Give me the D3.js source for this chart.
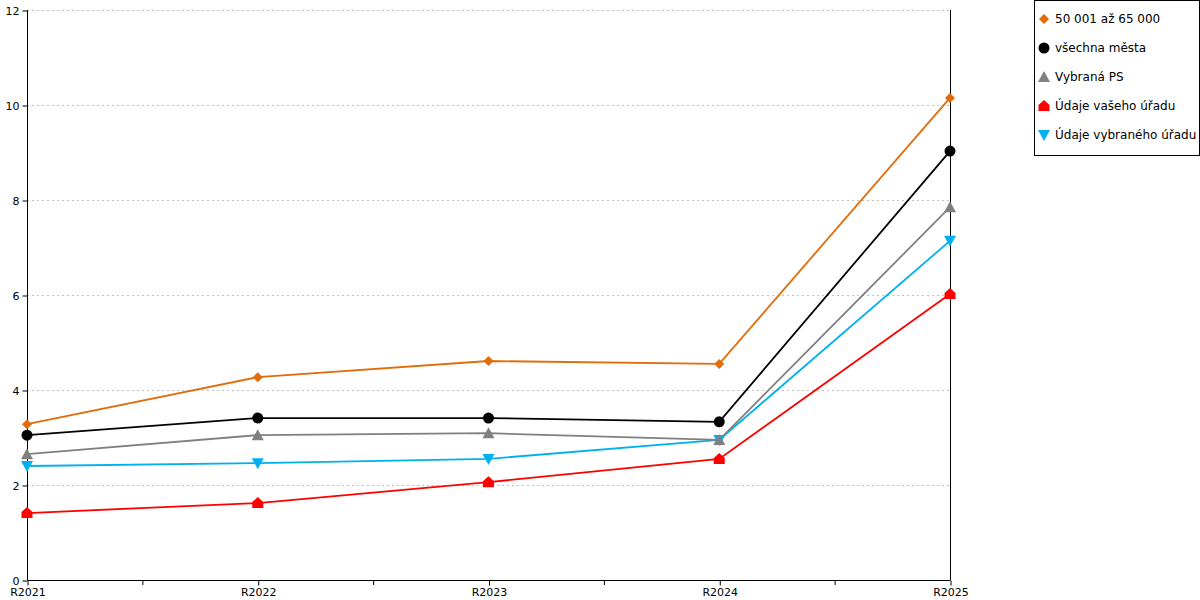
<!DOCTYPE html>
<html>
<head>
<meta charset="utf-8">
<script src="https://cdn.jsdelivr.net/npm/d3@7"></script>
<style>
  body { margin: 0; background: #fff; }
  text { font-family: "DejaVu Sans", sans-serif; }
</style>
</head>
<body>
<svg id="chart" width="1200" height="600"></svg>
<script>
// chart data
var categories = ['R2021', 'R2022', 'R2023', 'R2024', 'R2025'];
var seriesNames = ['50 001 až 65 000', 'všechna města', 'Vybraná PS', 'Údaje vašeho úřadu', 'Údaje vybraného úřadu'];
var orangeValues = [3.28, 4.27, 4.61, 4.55, 10.15];
var blackValues = [3.05, 3.41, 3.41, 3.33, 9.03];
var grayValues = [2.65, 3.05, 3.09, 2.95, 7.85];
var redValues = [1.41, 1.62, 2.06, 2.55, 6.02];
var cyanValues = [2.40, 2.46, 2.55, 2.95, 7.14];
var yTicks = [0, 2, 4, 6, 8, 10, 12];

var series = [
    {name: seriesNames[0], values: orangeValues, color: '#e36c0a', shape: 'diamond'},
    {name: seriesNames[1], values: blackValues, color: '#000000', shape: 'circle'},
    {name: seriesNames[2], values: grayValues, color: '#808080', shape: 'up'},
    {name: seriesNames[3], values: redValues, color: '#ff0000', shape: 'house'},
    {name: seriesNames[4], values: cyanValues, color: '#00b0f0', shape: 'down'}
];

var svg = d3.select('#chart');
var plotLeft = 27, plotRight = 950, plotTop = 10, plotBottom = 580;

var x = d3.scalePoint().domain(categories).range([plotLeft, plotRight]);
var y = d3.scaleLinear().domain([0, 12]).range([plotBottom, plotTop]);

// grid lines
svg.append('g')
    .selectAll('line')
    .data(yTicks.slice(1))
    .enter()
    .append('line')
    .attr('x1', plotLeft)
    .attr('x2', plotRight)
    .attr('y1', function(d){ return y(d) + 0.5; })
    .attr('y2', function(d){ return y(d) + 0.5; })
    .style('stroke', '#c0c0c0')
    .style('stroke-width', 1)
    .style('stroke-dasharray', '2,3');

// y axis
var yAxis = svg.append('g')
    .attr('transform', 'translate(' + (plotLeft + 0.5) + ',0.5)')
    .call(d3.axisLeft(y).tickValues(yTicks).tickSize(5).tickPadding(3).tickFormat(d3.format('d')));
yAxis.select('.domain').remove();
yAxis.selectAll('text').style('font-size', '11px').style('font-family', '"DejaVu Sans", sans-serif').attr('fill', '#000');
svg.append('line')
    .attr('x1', plotLeft + 0.5).attr('x2', plotLeft + 0.5)
    .attr('y1', plotTop).attr('y2', plotBottom)
    .style('stroke', '#000').style('stroke-width', 1);

// right edge line
svg.append('line')
    .attr('x1', plotRight + 0.5).attr('x2', plotRight + 0.5)
    .attr('y1', plotTop).attr('y2', plotBottom)
    .style('stroke', '#000').style('stroke-width', 1);

// x axis
var xAxis = svg.append('g')
    .attr('transform', 'translate(0.5,' + (plotBottom + 0.5) + ')')
    .call(d3.axisBottom(x).tickSize(5).tickPadding(3).tickSizeOuter(0));
xAxis.select('.domain').attr('d', 'M' + plotLeft + ',0H' + plotRight);
xAxis.selectAll('text').style('font-size', '11px').style('font-family', '"DejaVu Sans", sans-serif').attr('fill', '#000');

// minor ticks between categories
var step = x.step();
svg.append('g')
    .selectAll('line')
    .data(categories.slice(0, -1))
    .enter()
    .append('line')
    .attr('x1', function(d){ return x(d) + step / 2 + 0.5; })
    .attr('x2', function(d){ return x(d) + step / 2 + 0.5; })
    .attr('y1', plotBottom)
    .attr('y2', plotBottom + 5)
    .style('stroke', '#000')
    .style('stroke-width', 1);

// marker path
function markerPath(shape, cx, cy){
    if(shape === 'diamond'){
        return 'M' + cx + ',' + (cy - 5) + 'L' + (cx + 5) + ',' + cy + 'L' + cx + ',' + (cy + 5) + 'L' + (cx - 5) + ',' + cy + 'Z';
    }
    if(shape === 'circle'){
        return 'M' + (cx - 5.5) + ',' + cy + 'a5.5,5.5 0 1,0 11,0a5.5,5.5 0 1,0 -11,0Z';
    }
    if(shape === 'up'){
        return 'M' + cx + ',' + (cy - 6) + 'L' + (cx + 6) + ',' + (cy + 5) + 'L' + (cx - 6) + ',' + (cy + 5) + 'Z';
    }
    if(shape === 'down'){
        return 'M' + (cx - 6) + ',' + (cy - 5) + 'L' + (cx + 6) + ',' + (cy - 5) + 'L' + cx + ',' + (cy + 6) + 'Z';
    }
    // house
    return 'M' + cx + ',' + (cy - 6) + 'L' + (cx + 5.5) + ',' + (cy - 1) + 'L' + (cx + 5.5) + ',' + (cy + 5) + 'L' + (cx - 5.5) + ',' + (cy + 5) + 'L' + (cx - 5.5) + ',' + (cy - 1) + 'Z';
}

var line = d3.line()
    .x(function(d, i){ return x(categories[i]); })
    .y(function(d){ return y(d); });

// lines, reversed so the first series ends on top
series.slice().reverse().forEach(function(s){
    svg.append('path')
        .datum(s.values)
        .attr('d', line)
        .style('fill', 'none')
        .style('stroke', s.color)
        .style('stroke-width', 1.8);
});
series.slice().reverse().forEach(function(s){
    svg.append('g')
        .selectAll('path')
        .data(s.values)
        .enter()
        .append('path')
        .attr('d', function(d, i){ return markerPath(s.shape, x(categories[i]), y(d)); })
        .style('fill', s.color);
});

// legend
var legend = svg.append('g');
legend.append('rect')
    .attr('x', 1034.5).attr('y', 0.5)
    .attr('width', 165).attr('height', 155)
    .style('fill', '#fff').style('stroke', '#000').style('stroke-width', 1);
series.forEach(function(s, i){
    var ly = 19 + i * 29;
    legend.append('path')
        .attr('d', markerPath(s.shape, 1044, ly))
        .style('fill', s.color);
    legend.append('text')
        .attr('x', 1055)
        .attr('y', ly + 4)
        .style('font-size', '12px')
        .attr('fill', '#000')
        .text(s.name);
});
</script>
</body>
</html>
